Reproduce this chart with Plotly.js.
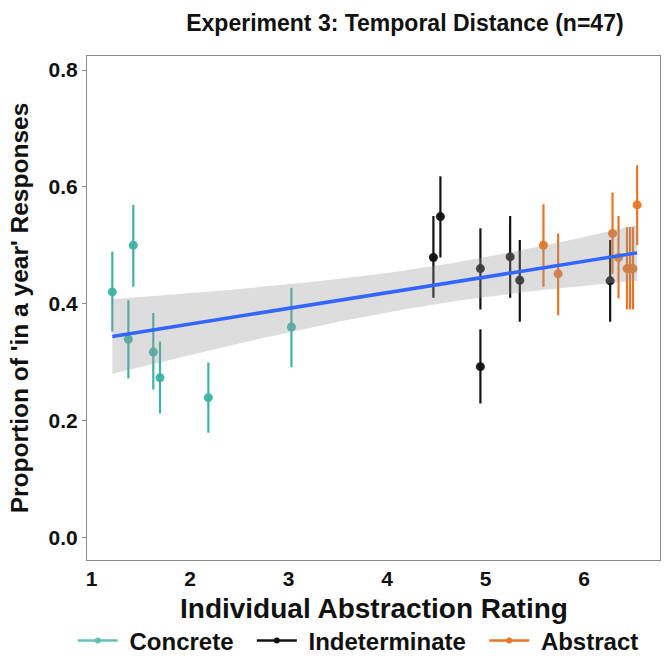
<!DOCTYPE html>
<html>
<head>
<meta charset="utf-8">
<script src="https://cdn.plot.ly/plotly-3.0.1.min.js"></script>
<style>html,body{margin:0;padding:0;background:#fff;}#chart{width:666px;height:658px;}</style>
</head>
<body>
<div id="chart"></div>
<script>
// Concrete items
const concreteX  = [1.211, 1.424, 1.374, 1.627, 1.695, 2.186, 3.029];
const concreteY  = [0.420, 0.500, 0.339, 0.317, 0.273, 0.239, 0.360];
const concreteHi = [0.489, 0.569, 0.406, 0.384, 0.335, 0.299, 0.427];
const concreteLo = [0.352, 0.429, 0.272, 0.253, 0.212, 0.179, 0.291];
// Indeterminate items
const indetX  = [4.470, 4.541, 4.947, 4.947, 5.249, 5.347, 6.264];
const indetY  = [0.479, 0.549, 0.460, 0.292, 0.480, 0.440, 0.439];
const indetHi = [0.550, 0.618, 0.529, 0.356, 0.550, 0.509, 0.509];
const indetLo = [0.410, 0.479, 0.390, 0.229, 0.410, 0.369, 0.369];
// Abstract items
const abstractX  = [5.587, 5.736, 6.288, 6.349, 6.435, 6.466, 6.496, 6.538];
const abstractY  = [0.500, 0.451, 0.520, 0.479, 0.460, 0.460, 0.460, 0.569];
const abstractHi = [0.570, 0.520, 0.590, 0.550, 0.531, 0.531, 0.531, 0.637];
const abstractLo = [0.429, 0.380, 0.451, 0.409, 0.390, 0.390, 0.390, 0.500];

const groupNames = ['Concrete', 'Indeterminate', 'Abstract'];
const yTicks = [0.0, 0.2, 0.4, 0.6, 0.8];
const xTicks = [1, 2, 3, 4, 5, 6];
const xTitle = 'Individual Abstraction Rating';

const colors = {Concrete: '#3EB3A3', Indeterminate: '#111111', Abstract: '#EA7424'};
const FONT = '"Liberation Sans", Arial, sans-serif';
const NB = '\u00a0';

function pointTrace(name, xs, ys, hi, lo) {
  return {
    type: 'scatter', mode: 'markers', x: xs, y: ys, name: name, showlegend: false,
    marker: {color: colors[name], size: 9, opacity: 0.95},
    error_y: {type: 'data', symmetric: false,
      array: hi.map((h, i) => h - ys[i]), arrayminus: lo.map((l, i) => ys[i] - l),
      color: colors[name], thickness: 2.2, width: 0}
  };
}
function legendTrace(name, last) {
  return {type: 'scatter', mode: 'lines+markers', x: [null], y: [null],
    name: NB + name + (last ? '' : NB + NB),
    line: {color: colors[name], width: 2.5}, marker: {color: colors[name], size: 6},
    opacity: name === 'Concrete' ? 0.8 : 1};
}

// linear fit with 95% CI (as geom_smooth(method = "lm"))
const allX = concreteX.concat(indetX, abstractX);
const allY = concreteY.concat(indetY, abstractY);
const n = allX.length;
const mx = allX.reduce((a, b) => a + b, 0) / n;
const my = allY.reduce((a, b) => a + b, 0) / n;
let sxx = 0, sxy = 0;
for (let i = 0; i < n; i++) { sxx += (allX[i] - mx) ** 2; sxy += (allX[i] - mx) * (allY[i] - my); }
const slope = sxy / sxx, icpt = my - slope * mx;
let sse = 0;
for (let i = 0; i < n; i++) sse += (allY[i] - (icpt + slope * allX[i])) ** 2;
const df = n - 2, s = Math.sqrt(sse / df);
const z = 1.959964;
const tcrit = z + (z ** 3 + z) / (4 * df) + (5 * z ** 5 + 16 * z ** 3 + 3 * z) / (96 * df * df)
  + (3 * z ** 7 + 19 * z ** 5 + 17 * z ** 3 - 15 * z) / (384 * df ** 3);
const xmin = Math.min(...allX), xmax = Math.max(...allX);
const fx = [], fy = [], fu = [], fl = [];
for (let k = 0; k < 80; k++) {
  const xv = xmin + (xmax - xmin) * k / 79;
  const yv = icpt + slope * xv;
  const se = s * Math.sqrt(1 / n + (xv - mx) ** 2 / sxx);
  fx.push(xv); fy.push(yv); fu.push(yv + tcrit * se); fl.push(yv - tcrit * se);
}

const data = [
  pointTrace('Concrete', concreteX, concreteY, concreteHi, concreteLo),
  pointTrace('Indeterminate', indetX, indetY, indetHi, indetLo),
  pointTrace('Abstract', abstractX, abstractY, abstractHi, abstractLo),
  {type: 'scatter', mode: 'lines', x: fx, y: fl, line: {width: 0}, showlegend: false, hoverinfo: 'skip'},
  {type: 'scatter', mode: 'lines', x: fx, y: fu, line: {width: 0}, fill: 'tonexty',
   fillcolor: 'rgba(153,153,153,0.33)', showlegend: false, hoverinfo: 'skip'},
  {type: 'scatter', mode: 'lines', x: fx, y: fy, line: {color: '#3366FF', width: 3.5}, showlegend: false},
  legendTrace('Concrete'), legendTrace('Indeterminate'), legendTrace('Abstract', true)
];

const layout = {
  width: 666, height: 658,
  margin: {l: 87, r: 6, t: 56, b: 98},
  paper_bgcolor: '#fff', plot_bgcolor: '#fff',
  font: {family: FONT, color: '#000'},
  title: {text: '<b>Experiment 3: Temporal Distance (n=47)</b>', font: {size: 23, family: FONT, color: '#111'},
    x: 0.608, xanchor: 'center', y: 0.965, yanchor: 'middle'},
  xaxis: {range: [0.954, 6.77], tickvals: xTicks, ticktext: xTicks.map(String),
    showgrid: false, zeroline: false, showline: true, mirror: true, linecolor: '#8a8a8a', linewidth: 1,
    ticks: '', tickfont: {size: 21, family: FONT, color: '#111', weight: 'bold'}},
  yaxis: {range: [-0.039, 0.824], tickvals: yTicks, ticktext: yTicks.map(v => v.toFixed(1)),
    showgrid: false, zeroline: false, showline: true, mirror: true, linecolor: '#8a8a8a', linewidth: 1,
    ticks: 'outside', ticklen: 4, tickcolor: '#8a8a8a',
    tickfont: {size: 21, family: FONT, color: '#111', weight: 'bold'},
    title: {text: "<b>Proportion of 'in a year' Responses</b>", font: {size: 24.5, family: FONT, color: '#111'}, standoff: 13}},
  annotations: [{text: '<b>' + xTitle + '</b>', xref: 'paper', yref: 'paper', x: 0.5, y: -0.097,
    xanchor: 'center', yanchor: 'middle', showarrow: false, font: {size: 28, family: FONT, color: '#111'}}],
  legend: {orientation: 'h', traceorder: 'normal', xref: 'container', x: 0.538, xanchor: 'center',
    yref: 'container', y: 0.026, yanchor: 'middle',
    font: {size: 24, family: FONT, color: '#111', weight: 'bold'}, itemwidth: 40, tracegroupgap: 0},
  showlegend: true
};

Plotly.newPlot('chart', data, layout, {displayModeBar: false, staticPlot: true});
</script>
</body>
</html>
